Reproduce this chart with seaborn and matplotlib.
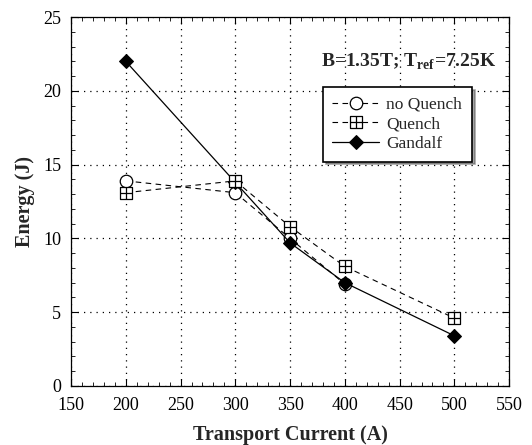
import numpy as np
import pandas as pd
import matplotlib
matplotlib.use("Agg")
import matplotlib.pyplot as plt
from matplotlib.path import Path
from matplotlib.ticker import MultipleLocator
import seaborn as sns

current_noq = [200, 300, 350, 400]
energy_noq = [13.9, 13.1, 10.0, 6.9]
current_q = [200, 300, 350, 400, 500]
energy_q = [13.1, 13.9, 10.8, 8.1, 4.6]
current_g = [200, 300, 350, 400, 500]
energy_g = [22.0, 13.8, 9.7, 7.0, 3.4]
labels = ["no Quench", "Quench", "Gandalf"]

sns.set_theme(style="ticks")
plt.rcParams['font.family'] = ['Liberation Serif', 'DejaVu Serif']
plt.rcParams['mathtext.fontset'] = 'custom'
plt.rcParams['mathtext.rm'] = 'Liberation Serif'
plt.rcParams['mathtext.bf'] = 'Liberation Serif:bold'

fig = plt.figure(figsize=(5.32, 4.45), dpi=100)
ax = fig.add_axes([0.1335, 0.1326, 0.8235, 0.829])

# square with plus marker
verts = [(-1, -1), (1, -1), (1, 1), (-1, 1), (-1, -1),
         (0, -1), (0, 1), (-1, 0), (1, 0)]
codes = [Path.MOVETO, Path.LINETO, Path.LINETO, Path.LINETO, Path.CLOSEPOLY,
         Path.MOVETO, Path.LINETO, Path.MOVETO, Path.LINETO]
sqplus = Path(verts, codes)

df_noq = pd.DataFrame({"I": current_noq, "E": energy_noq})
df_q = pd.DataFrame({"I": current_q, "E": energy_q})
df_g = pd.DataFrame({"I": current_g, "E": energy_g})

sns.lineplot(data=df_noq, x="I", y="E", ax=ax, color="black", lw=0.8,
             linestyle=(0, (5, 4)), marker="o", markersize=9,
             markerfacecolor="white", markeredgecolor="black", markeredgewidth=0.9,
             label=labels[0], zorder=3)
sns.lineplot(data=df_q, x="I", y="E", ax=ax, color="black", lw=0.8,
             linestyle=(0, (5, 4)), marker=sqplus, markersize=9,
             markerfacecolor="white", markeredgecolor="black", markeredgewidth=0.9,
             label=labels[1], zorder=5)
sns.lineplot(data=df_g, x="I", y="E", ax=ax, color="black", lw=0.9,
             linestyle="-", marker="D", markersize=7,
             markerfacecolor="black", markeredgecolor="black",
             label=labels[2], zorder=4)

ax.set_xlim(150, 550)
ax.set_ylim(0, 25)
ax.xaxis.set_major_locator(MultipleLocator(50))
ax.xaxis.set_minor_locator(MultipleLocator(10))
ax.yaxis.set_major_locator(MultipleLocator(5))
ax.yaxis.set_minor_locator(MultipleLocator(1))
ax.tick_params(which="both", direction="in", top=True, right=True, colors="black",
               labelsize=13)
ax.tick_params(which="major", length=5, width=0.8)
ax.tick_params(which="minor", length=3, width=0.6)
ax.tick_params(axis="x", which="major", pad=8)
ax.tick_params(axis="y", which="major", pad=7)
ax.grid(True, which="major", color="black", linestyle=(0, (1, 4)), linewidth=0.9)
for s in ax.spines.values():
    s.set_color("black")
    s.set_linewidth(0.9)

ax.set_xlabel("Transport Current (A)", fontsize=14.5, fontweight="bold", labelpad=8)
ax.set_ylabel("Energy (J)", fontsize=14.5, fontweight="bold", labelpad=6)

ax.text(0.97, 0.878, r"B=1.35T; T$_{\mathbf{ref}}$=7.25K", transform=ax.transAxes,
        ha="right", va="center", fontsize=14, fontweight="bold")

leg = ax.legend(loc="upper left", bbox_to_anchor=(0.575, 0.81), frameon=True,
                fancybox=False, shadow=True, edgecolor="black", fontsize=12.5,
                handlelength=2.7, handletextpad=0.4, borderpad=0.55, labelspacing=0.2,
                borderaxespad=0)
leg.get_frame().set_linewidth(1.2)

fig.savefig("out.png", dpi=100)
